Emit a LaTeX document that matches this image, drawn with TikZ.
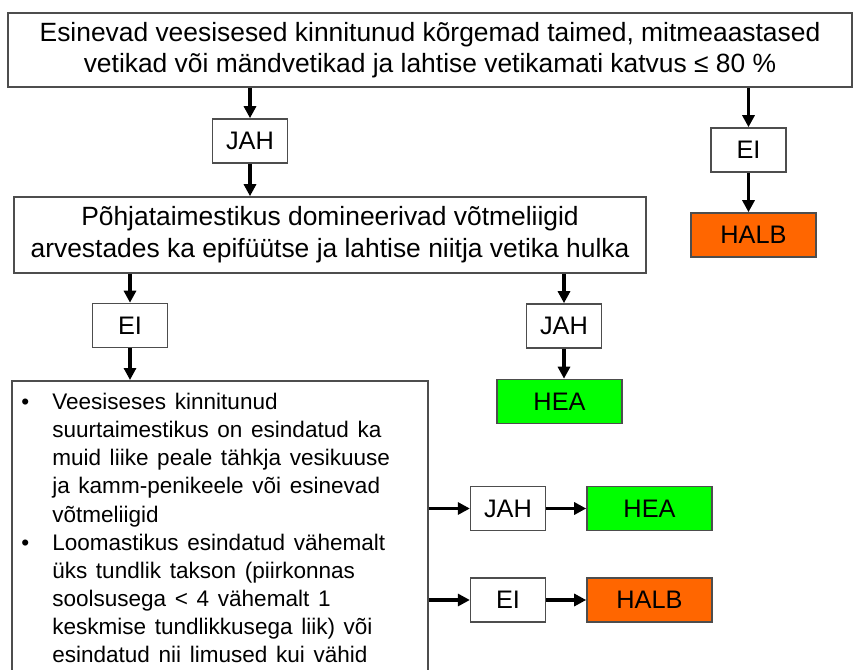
\documentclass[tikz,border=0pt]{standalone}
\usepackage{fontspec}
\setmainfont{Liberation Sans}
\definecolor{boxgray}{HTML}{4D4D4D}
\definecolor{goodgreen}{HTML}{00FF00}
\definecolor{badorange}{HTML}{FF6600}
\usetikzlibrary{arrows.meta,positioning}

\begin{document}
\begin{tikzpicture}[
  x=0.75pt, y=-0.75pt,
  qbox/.style={rectangle, draw=boxgray, line width=1.2pt, fill=white, align=center, inner sep=0pt, font=\fontsize{19.8}{23}\selectfont},
  ans/.style={rectangle, draw=boxgray, line width=1.2pt, fill=white, minimum width=56pt, minimum height=33pt, inner sep=0pt, font=\fontsize{19}{22}\selectfont},
  good/.style={ans, fill=goodgreen, minimum width=93.75pt},
  bad/.style={ans, fill=badorange, minimum width=93.75pt},
  arr/.style={-{Triangle[length=9pt,width=9pt]}, line width=2.6pt, black},
]
\useasboundingbox (0,0) rectangle (853,670);
\clip (0,0) rectangle (853,670);

% questions
\node[qbox, minimum width=633pt, minimum height=55.5pt] (q1) at (430,50)
  {Esinevad veesisesed kinnitunud kõrgemad taimed, mitmeaastased\\vetikad või mändvetikad ja lahtise vetikamati katvus ≤ 80 \%};
\node[qbox, minimum width=474pt, minimum height=57pt, font=\fontsize{19.8}{24}\selectfont] (q2) at (330,235)
  {Põhjataimestikus domineerivad võtmeliigid\\arvestades ka epifüütse ja lahtise niitja vetika hulka};
\node[qbox, anchor=north west, minimum width=312pt, minimum height=240pt] (crit) at (11,380) {};
\node[anchor=north west, inner sep=0pt, text width=290pt, align=left, font=\fontsize{16.9}{21.1}\selectfont] (crittext) at (21,393)
  {\spaceskip=6.5pt plus 1pt\hyphenpenalty=10000
   \noindent\hangindent=23.25pt\hangafter=1\makebox[23.25pt][l]{•}Veesiseses kinnitunud\newline
   suurtaimestikus on esindatud ka\newline
   muid liike peale tähkja vesikuuse\newline
   ja kamm-penikeele või esinevad\newline
   võtmeliigid\par
   \noindent\hangindent=23.25pt\hangafter=1\makebox[23.25pt][l]{•}Loomastikus esindatud vähemalt\newline
   üks tundlik takson (piirkonnas\newline
   soolsusega < 4 vähemalt 1\newline
   keskmise tundlikkusega liik) või\newline
   esindatud nii limused kui vähid\par};

% answers
\node[ans] (jah1) at (250,141) {JAH};
\node[ans] (ei1) at (748.5,150) {EI};
\node[bad] (halb1) at (753.5,235) {HALB};
\node[ans] (ei2) at (130,325.5) {EI};
\node[ans] (jah2) at (564,326) {JAH};
\node[good] (hea1) at (559.5,401.5) {HEA};
\node[ans] (jah3) at (508,508.5) {JAH};
\node[good] (hea2) at (649.5,508.5) {HEA};
\node[ans] (ei3) at (508,600) {EI};
\node[bad] (halb2) at (649.5,600) {HALB};

% arrows
\draw[arr] (q1.south -| jah1) -- (jah1);
\draw[arr] (jah1) -- (jah1 |- q2.north);
\draw[arr] (q1.south -| ei1) -- (ei1);
\draw[arr] (ei1) -- (ei1 |- halb1.north);
\draw[arr] (q2.south -| ei2) -- (ei2);
\draw[arr] (ei2) -- (ei2 |- crit.north);
\draw[arr] (q2.south -| jah2) -- (jah2);
\draw[arr] (jah2) -- (jah2 |- hea1.north);
\draw[arr] (crit.east |- jah3) -- (jah3);
\draw[arr] (jah3) -- (hea2);
\draw[arr] (crit.east |- ei3) -- (ei3);
\draw[arr] (ei3) -- (halb2);
\end{tikzpicture}
\end{document}
